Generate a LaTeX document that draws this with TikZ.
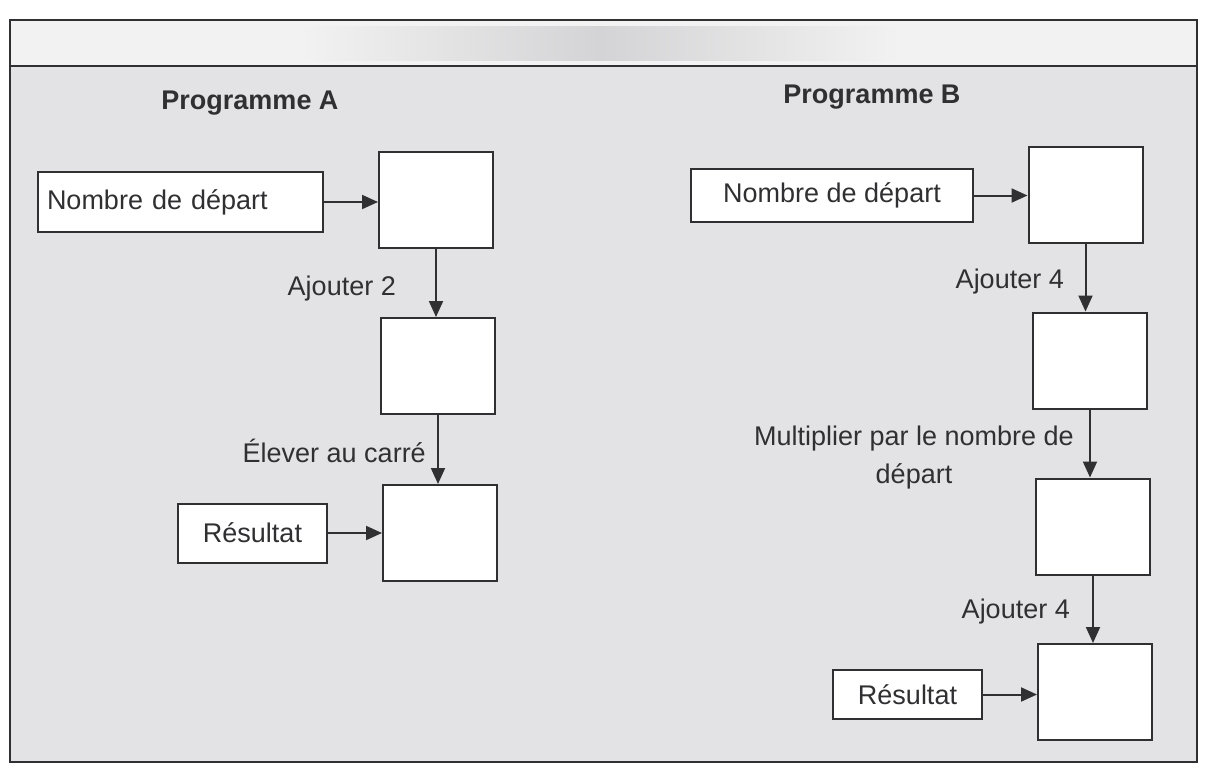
\documentclass[tikz,border=0pt]{standalone}
\usepackage{fontspec}
\setmainfont{Liberation Sans}
\usetikzlibrary{arrows.meta}
\definecolor{ink}{HTML}{303032}
\definecolor{bodybg}{HTML}{E3E3E5}
\definecolor{headbg}{HTML}{F2F2F2}
\definecolor{smudge}{HTML}{D4D4D6}
\begin{document}
\begin{tikzpicture}[x=1pt,y=-1pt,
  frame/.style={draw=ink,line width=2pt},
  stepbox/.style={draw=ink,fill=white,line width=2pt,inner sep=0pt,
    font=\fontsize{27}{32}\selectfont,text=ink},
  sq/.style={stepbox,minimum width=114pt,minimum height=96pt},
  lbl/.style={font=\fontsize{27}{38}\selectfont,text=ink,inner sep=0pt},
  ttl/.style={font=\fontsize{27}{32}\selectfont\bfseries,text=ink,inner sep=0pt},
  arr/.style={draw=ink,line width=2pt,-{Triangle[length=16pt,width=14pt]}}]
\useasboundingbox (0,0) rectangle (1205,764);
\fill[white] (0,0) rectangle (1205,764);
% frame and header band
\fill[headbg] (10,20) rectangle (1197,66);
\shade[left color=headbg,right color=headbg,middle color=smudge] (300,26) rectangle (900,60);
\fill[bodybg] (10,66) rectangle (1197,762);
\draw[frame] (10,20) rectangle (1197,762);
\draw[frame] (10,66) -- (1197,66);
% titles
\node[ttl,anchor=base] (tA) at (250,109) {Programme A};
\node[ttl,anchor=base] (tB) at (872,103) {Programme B};
% Programme A
\node[stepbox,minimum height=60pt,text width=267pt,inner xsep=9pt,align=left] (nA) at (180.5,202) {Nombre de départ};
\node[sq] (A1) at (436,200) {};
\node[sq] (A2) at (438,366) {};
\node[sq] (A3) at (440,533) {};
\node[stepbox,minimum width=149pt,minimum height=59pt] (rA) at (252.5,533) {Résultat};
\draw[arr] (nA.east) -- (nA.east -| A1.west);
\draw[arr] (A1.south) -- (A1.south |- A2.north);
\draw[arr] (A2.south) -- (A2.south |- A3.north);
\draw[arr] (rA.east) -- (rA.east -| A3.west);
\node[lbl,anchor=base east] (lA1) at (396,295) {Ajouter 2};
\node[lbl,anchor=base east] (lA2) at (426,462) {Élever au carré};
% Programme B
\node[stepbox,minimum width=282pt,minimum height=53pt] (nB) at (832,195.5) {Nombre de départ};
\node[sq] (B1) at (1085.5,195) {};
\node[sq] (B2) at (1090,360.5) {};
\node[sq] (B3) at (1093,526.5) {};
\node[sq] (B4) at (1095,692) {};
\node[stepbox,minimum width=149pt,minimum height=49pt] (rB) at (907.5,694.5) {Résultat};
\draw[arr] (nB.east) -- (nB.east -| B1.west);
\draw[arr] (B1.south) -- (B1.south |- B2.north);
\draw[arr] (B2.south) -- (B2.south |- B3.north);
\draw[arr] (B3.south) -- (B3.south |- B4.north);
\draw[arr] (rB.east) -- (rB.east -| B4.west);
\node[lbl,anchor=base east] (lB1) at (1064,288) {Ajouter 4};
\node[lbl,anchor=base,align=center] (lB2) at (914,483) {Multiplier par le nombre de\\départ};
\node[lbl,anchor=base east] (lB3) at (1070,618) {Ajouter 4};
\end{tikzpicture}
\end{document}
